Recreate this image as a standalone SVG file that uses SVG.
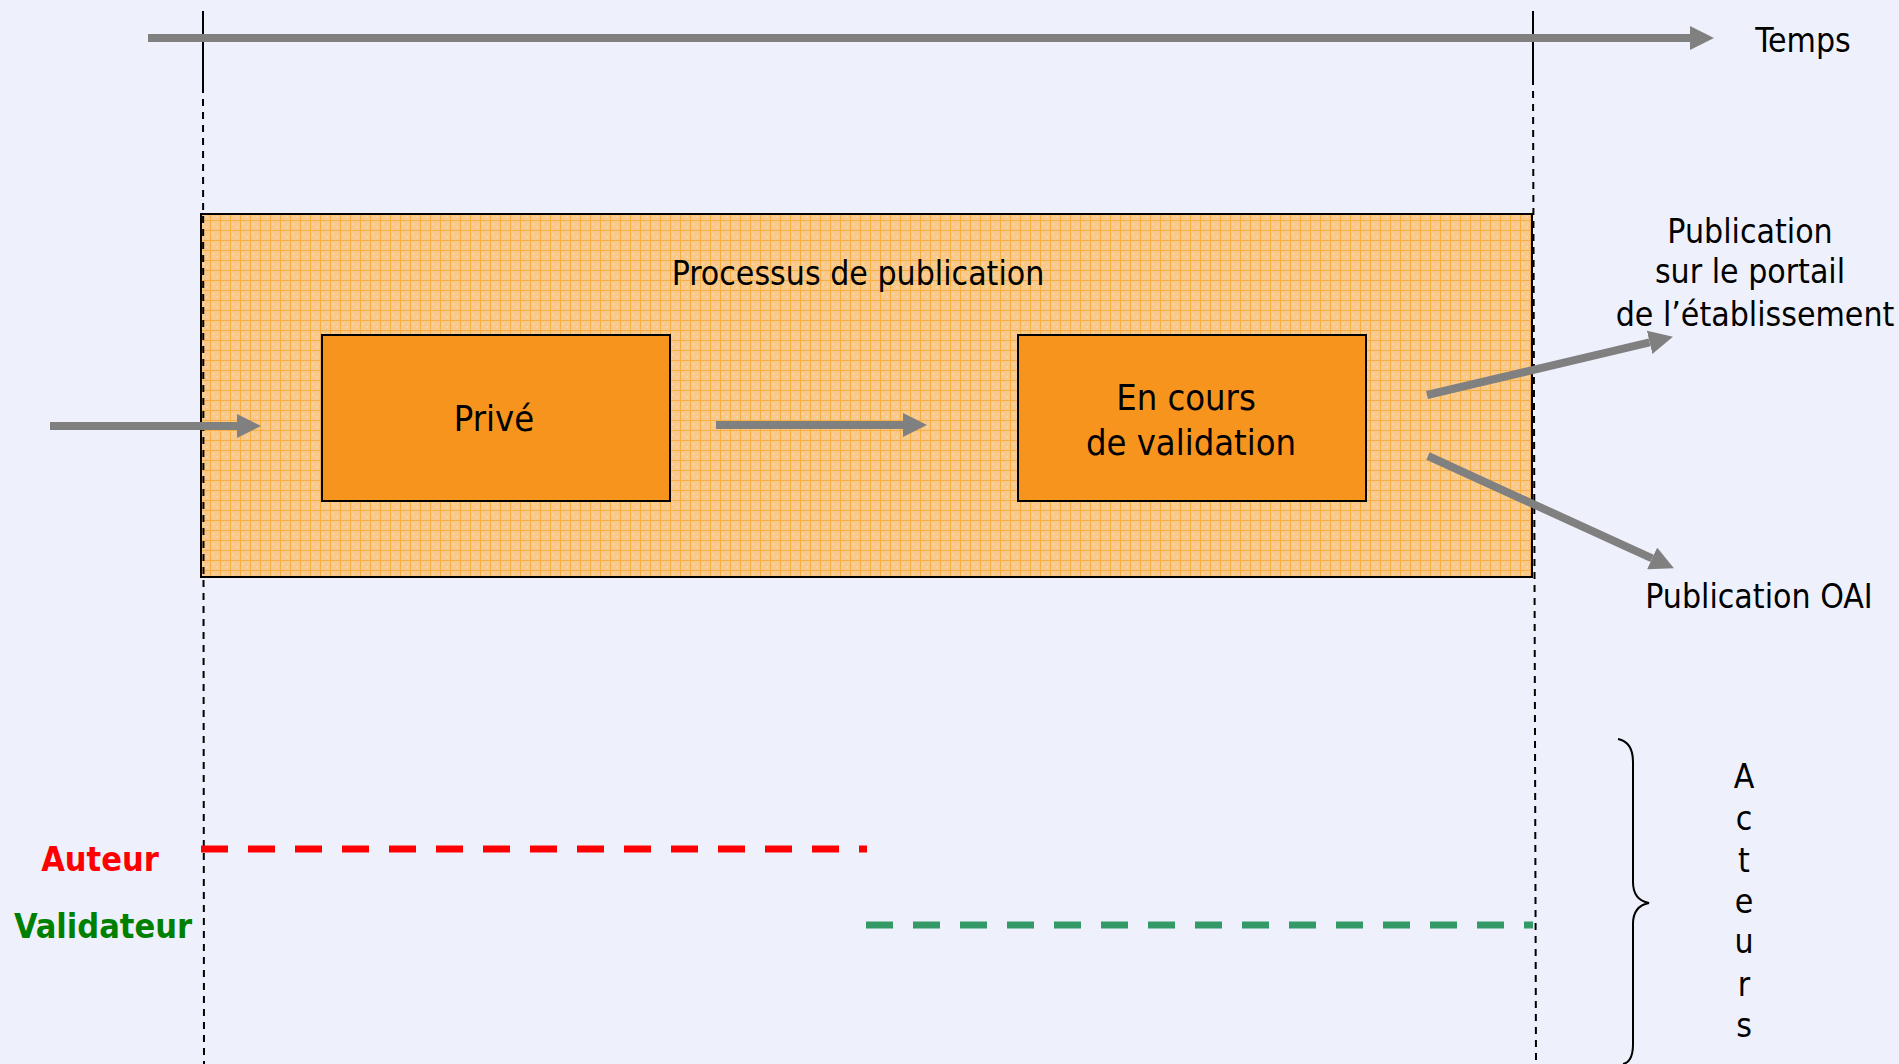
<svg xmlns="http://www.w3.org/2000/svg" width="1899" height="1064" viewBox="0 0 1899 1064">
<defs>
<style>
text{font-family:"DejaVu Sans Condensed","DejaVu Sans",sans-serif;font-stretch:condensed;fill:#000}
.t33{font-size:33.5px}
.t36{font-size:36px}
.mid{text-anchor:middle}
.bold{font-weight:bold;font-size:34px}
.arrow{stroke:#808080;stroke-width:8;fill:none;marker-end:url(#head)}
.guide{stroke:#000;stroke-width:2;fill:none}
.state{fill:#F7941D;stroke:#000;stroke-width:2}
</style>
<marker id="head" markerUnits="userSpaceOnUse" viewBox="0 0 24 24" markerWidth="24" markerHeight="24" refX="0" refY="12" orient="auto">
<path d="M0,0 L24,12 L0,24 z" fill="#808080"/>
</marker>
<pattern id="grid" patternUnits="userSpaceOnUse" width="10" height="10">
<rect width="10" height="10" fill="#F8C98B"/>
<rect x="2" y="3" width="2" height="2" fill="#F6D3A6"/>
<rect x="6" y="6" width="2" height="2" fill="#F6D3A6"/>
<path d="M0,0.5 H10 M0.5,0 V10" stroke="#F7AE42" stroke-width="1"/>
</pattern>
</defs>
<rect width="1899" height="1064" fill="#EEF1FC"/>

<g id="process">
<rect x="201" y="214" width="1331" height="363" fill="url(#grid)" stroke="#000" stroke-width="2"/>
<text class="t33 mid" x="858" y="285">Processus de publication</text>
</g>

<g id="guides">
<path class="guide" d="M203,11 V86"/>
<path class="guide" d="M203,86 L204,1064" stroke-dasharray="7 6"/>
<path class="guide" d="M1533,11 V78"/>
<path class="guide" d="M1533,78 L1536,1064" stroke-dasharray="7 6"/>
</g>

<g id="prive">
<rect class="state" x="322" y="335" width="348" height="166"/>
<text class="t36 mid" x="494" y="431">Privé</text>
</g>

<g id="validation">
<rect class="state" x="1018" y="335" width="348" height="166"/>
<text class="t36 mid" x="1186" y="410">En cours</text>
<text class="t36 mid" x="1191" y="455">de validation</text>
</g>

<g id="connectors">
<line class="arrow" x1="148" y1="38" x2="1690" y2="38"/>
<line class="arrow" x1="50" y1="426" x2="237" y2="426"/>
<line class="arrow" x1="716" y1="425" x2="903" y2="425"/>
<line class="arrow" x1="1427" y1="395" x2="1649.6" y2="342.3"/>
<line class="arrow" x1="1428" y1="456" x2="1652.1" y2="558.4"/>
</g>

<g id="temps">
<text class="t33 mid" x="1803" y="52">Temps</text>
</g>

<g id="portail">
<text class="t33 mid" x="1750" y="243">Publication</text>
<text class="t33 mid" x="1750" y="283">sur le portail</text>
<text class="t33 mid" x="1755" y="326">de l’établissement</text>
</g>

<g id="oai">
<text class="t33 mid" x="1759" y="608">Publication OAI</text>
</g>

<g id="auteur">
<text class="bold mid" x="100" y="871" style="fill:#FF0000">Auteur</text>
<line x1="201" y1="849" x2="867" y2="849" stroke="#FF0000" stroke-width="7" stroke-dasharray="27 20"/>
</g>

<g id="validateur">
<text class="bold mid" x="103" y="938" style="fill:#008000">Validateur</text>
<line x1="866" y1="925" x2="1533" y2="925" stroke="#339966" stroke-width="7" stroke-dasharray="27 20"/>
</g>

<g id="acteurs">
<path d="M1618,739 Q1633,742 1633,762 V882 Q1633,900 1649,903 Q1633,906 1633,924 V1044 Q1633,1062 1623,1064" fill="none" stroke="#000" stroke-width="2"/>
<text class="t33 mid" x="1744" y="788">A</text>
<text class="t33 mid" x="1744" y="830">c</text>
<text class="t33 mid" x="1744" y="872">t</text>
<text class="t33 mid" x="1744" y="913">e</text>
<text class="t33 mid" x="1744" y="953">u</text>
<text class="t33 mid" x="1744" y="996">r</text>
<text class="t33 mid" x="1744" y="1037">s</text>
</g>
</svg>
